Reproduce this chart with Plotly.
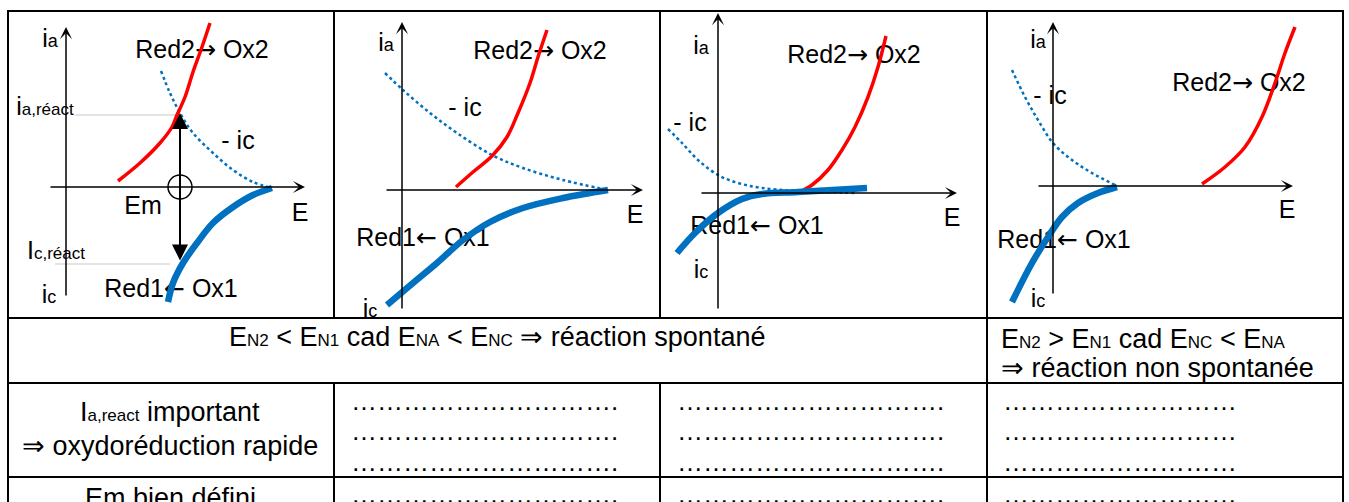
import plotly.graph_objects as go

W, H = 1349, 502
U = 10.0  # pixels per data unit inside the graph panels

# ---------------- table geometry (pixels) ----------------
col_x = [8, 334, 660, 987, 1343]
row_y = [11, 318, 383, 477, 502]

# ---------------- graph panels ----------------
# origin of the (E, i) axes of each panel, in pixels
origins = [(66, 187), (402, 190), (718, 193), (1053, 186)]
# axis extents in data units: (E tail, E tip, i tail, i tip)
axis_ext = [(-1.7, 23.9, -11.0, 16.0), (-1.7, 24.1, -12.0, 16.8),
            (-1.8, 23.9, -11.7, 18.0), (-1.6, 24.0, -10.9, 16.4)]

# ---- data (E, i in arbitrary units) ----
# Panel 1
p1_ox2_E = [5.2, 7.4, 9.4, 10.6, 11.1, 11.9, 12.7, 13.6, 14.4]
p1_ox2_i = [0.6, 2.4, 4.4, 6.0, 7.2, 9.0, 11.5, 14.0, 16.4]
p1_mic_E = [9.5, 10.4, 11.4, 12.7, 14.7, 16.7, 18.7, 20.6]
p1_mic_i = [11.6, 9.4, 7.4, 5.4, 3.4, 1.7, 0.5, -0.1]
p1_ox1_E = [20.6, 18.7, 16.7, 14.7, 13.1, 11.7, 10.7, 10.2]
p1_ox1_i = [-0.1, -0.8, -2.0, -3.6, -5.6, -7.6, -9.6, -11.5]
# Panel 2
p2_ox2_E = [5.4, 7.1, 9.0, 10.5, 11.6, 12.8, 13.6, 14.5]
p2_ox2_i = [0.3, 1.8, 3.4, 5.3, 7.7, 10.7, 13.3, 16.0]
p2_mic_E = [-1.7, 0.1, 2.8, 5.5, 9.0, 12.1, 16.1, 20.6]
p2_mic_i = [11.7, 10.0, 7.7, 5.7, 3.5, 2.2, 1.0, 0.0]
p2_ox1_E = [20.6, 16.1, 12.1, 8.8, 6.1, 3.5, 1.1, -1.5]
p2_ox1_i = [0.0, -0.8, -1.8, -3.2, -5.0, -7.3, -9.3, -11.5]
# Panel 3
p3_ox2_E = [8.0, 9.4, 11.0, 12.4, 13.7, 15.0, 16.0, 16.8]
p3_ox2_i = [0.0, 0.8, 2.3, 4.3, 6.6, 9.6, 12.6, 15.7]
p3_mic_E = [-5.0, -3.6, -2.0, 0.0, 2.0, 4.4, 8.0, 13.9]
p3_mic_i = [6.4, 5.0, 3.3, 1.8, 1.0, 0.5, 0.2, 0.0]
p3_ox1_E = [-4.1, -2.3, 0.0, 2.4, 4.4, 8.0, 14.9]
p3_ox1_i = [-6.0, -4.0, -2.0, -0.6, -0.1, 0.1, 0.5]
# Panel 4
p4_ox2_E = [14.9, 17.2, 19.2, 20.9, 22.2, 23.2, 24.2]
p4_ox2_i = [0.2, 1.9, 3.9, 6.9, 10.3, 13.3, 15.9]
p4_mic_E = [-4.1, -2.8, -1.5, 0.0, 1.9, 3.9, 6.4]
p4_mic_i = [11.6, 8.9, 6.6, 4.3, 2.6, 1.3, 0.0]
p4_ox1_E = [6.4, 4.5, 2.5, 0.9, -0.5, -2.1, -4.1]
p4_ox1_i = [-0.1, -0.7, -1.7, -3.1, -5.1, -7.7, -11.6]

curves = [
    (p1_mic_E, p1_mic_i, p1_ox2_E, p1_ox2_i, p1_ox1_E, p1_ox1_i),
    (p2_mic_E, p2_mic_i, p2_ox2_E, p2_ox2_i, p2_ox1_E, p2_ox1_i),
    (p3_mic_E, p3_mic_i, p3_ox2_E, p3_ox2_i, p3_ox1_E, p3_ox1_i),
    (p4_mic_E, p4_mic_i, p4_ox2_E, p4_ox2_i, p4_ox1_E, p4_ox1_i),
]


def sb(t, size):
    """small (subscript-like) text sitting near the baseline"""
    return "<span style='font-size:%dpx'>%s</span>" % (size, t)


ARR_R = "<span style='font-family:DejaVu Sans'>→</span>"
ARR_L = "<span style='font-family:DejaVu Sans'>←</span>"
RED2 = "Red2" + ARR_R + " Ox2"
RED1 = "Red1" + ARR_L + " Ox1"
IA = "i" + sb("a", 18)
IC = "i" + sb("c", 18)

# panel labels: (text, x px, y px)
panel_labels = [
    [(IA, 50, 41), (IC, 49, 297), ("E", 300, 215),
     (RED2, 202, 52), ("- ic", 238, 143), (RED1, 171, 291),
     ("Em", 143, 208), ("i" + sb("a,réact", 17), 45, 109), ("I" + sb("c,réact", 17), 56, 253)],
    [(IA, 386, 45), (IC, 370, 311), ("E", 635, 217),
     (RED2, 540, 53), ("- ic", 465, 110), (RED1, 423, 240)],
    [(IA, 701, 48), (IC, 701, 272), ("E", 952, 220),
     (RED2, 854, 57), ("- ic", 690, 125), (RED1, 757, 228)],
    [(IA, 1038, 42), (IC, 1038, 301), ("E", 1287, 212),
     (RED2, 1239, 85), ("- ic", 1050, 98), (RED1, 1064, 242)],
]

# table texts
S = 17
row2_left = ("E" + sb("N2", S) + " &lt; E" + sb("N1", S) + " cad E" + sb("NA", S) +
             " &lt; E" + sb("NC", S) + " ⇒ réaction spontané")
row2_right = ["E" + sb("N2", S) + " &gt; E" + sb("N1", S) + " cad E" + sb("NC", S) + " &lt; E" + sb("NA", S),
              "⇒ réaction non spontanée"]
row3_left = ["I" + sb("a,react", S) + " important", "⇒ oxydoréduction rapide"]
row4_left = "Em bien défini"
dots_long = "…" * 10 + "."
dots_short = "…" * 9

RED = "#FF0000"
BLUE = "#0070C0"
FONT = "Liberation Sans, Arial, sans-serif"

fig = go.Figure()
layout = dict(width=W, height=H, margin=dict(l=0, r=0, t=0, b=0, pad=0),
              paper_bgcolor="white", plot_bgcolor="rgba(0,0,0,0)",
              showlegend=False)
annotations = []
shapes = []

for k in range(4):
    n = "" if k == 0 else str(k + 1)
    xa, ya = "x" + n, "y" + n
    cl, cr = col_x[k], col_x[k + 1]
    ox, oy = origins[k]
    layout["xaxis" + n] = dict(domain=[cl / W, cr / W],
                               range=[(cl - ox) / U, (cr - ox) / U],
                               visible=False, fixedrange=True, anchor=ya)
    layout["yaxis" + n] = dict(domain=[1 - row_y[1] / H, 1 - row_y[0] / H],
                               range=[(oy - row_y[1]) / U, (oy - row_y[0]) / U],
                               visible=False, fixedrange=True, anchor=xa)
    # labels (drawn first so the curves pass over them)
    labs = panel_labels[k]
    fig.add_trace(go.Scatter(
        x=[(px - ox) / U for _, px, _ in labs],
        y=[(oy - py) / U for _, _, py in labs],
        text=[t for t, _, _ in labs], mode="text", textposition="middle center",
        textfont=dict(family=FONT, size=25, color="black"),
        hoverinfo="skip", xaxis=xa, yaxis=ya))
    mE, mi, rE, ri, bE, bi = curves[k]
    fig.add_trace(go.Scatter(x=mE, y=mi, mode="lines", line=dict(color=BLUE, width=2.5, dash="dot", shape="spline"),
                             hoverinfo="skip", xaxis=xa, yaxis=ya))
    fig.add_trace(go.Scatter(x=rE, y=ri, mode="lines", line=dict(color=RED, width=3.5, shape="spline"),
                             hoverinfo="skip", xaxis=xa, yaxis=ya))
    fig.add_trace(go.Scatter(x=bE, y=bi, mode="lines", line=dict(color=BLUE, width=6.5, shape="spline"),
                             hoverinfo="skip", xaxis=xa, yaxis=ya))
    # axes with arrows
    e0, e1, i0, i1 = axis_ext[k]
    annotations.append(dict(x=e1, y=0, ax=e0, ay=0, xref=xa, yref=ya, axref=xa, ayref=ya,
                            text="", showarrow=True, arrowhead=3, arrowsize=1.35, arrowwidth=1.5,
                            arrowcolor="black", standoff=0))
    annotations.append(dict(x=0, y=i1, ax=0, ay=i0, xref=xa, yref=ya, axref=xa, ayref=ya,
                            text="", showarrow=True, arrowhead=3, arrowsize=1.35, arrowwidth=1.5,
                            arrowcolor="black", standoff=0))

# panel 1 extras: reaction currents, Em marker
shapes.append(dict(type="line", xref="x", yref="y", x0=0.9, x1=11.4, y0=7.2, y1=7.2,
                   line=dict(color="#c8c8c8", width=1), layer="below"))
shapes.append(dict(type="line", xref="x", yref="y", x0=-1.1, x1=10.4, y0=-7.7, y1=-7.7,
                   line=dict(color="#c8c8c8", width=1), layer="below"))
shapes.append(dict(type="circle", xref="x", yref="y", x0=10.2, x1=12.6, y0=-1.2, y1=1.2,
                   line=dict(color="black", width=1.5)))
annotations.append(dict(x=11.4, y=7.4, ax=11.4, ay=-7.5, xref="x", yref="y", axref="x", ayref="y",
                        text="", showarrow=True, arrowside="end+start",
                        arrowhead=2, startarrowhead=2, arrowsize=1.6, startarrowsize=1.6,
                        arrowwidth=2, arrowcolor="black", standoff=0, startstandoff=0))

# table lines
def hline(y, x0, x1):
    shapes.append(dict(type="line", xref="paper", yref="paper", x0=x0 / W, x1=x1 / W,
                       y0=1 - y / H, y1=1 - y / H, line=dict(color="black", width=2)))

def vline(x, y0, y1):
    shapes.append(dict(type="line", xref="paper", yref="paper", x0=x / W, x1=x / W,
                       y0=1 - y0 / H, y1=1 - y1 / H, line=dict(color="black", width=2)))

for y in row_y[:4]:
    hline(y, col_x[0] - 1, col_x[4] + 1)
vline(col_x[0], row_y[0], H)
vline(col_x[4], row_y[0], H)
for x in col_x[1:4]:
    vline(x, row_y[0], row_y[1])
    vline(x, row_y[2], H)
vline(col_x[3], row_y[1], row_y[2])

def text(t, x, y, xanchor="center", size=27):
    annotations.append(dict(text=t, x=x / W, y=1 - y / H, xref="paper", yref="paper",
                            xanchor=xanchor, yanchor="middle", showarrow=False,
                            font=dict(family=FONT, size=size, color="black")))

text(row2_left, 497, 337)
text(row2_right[0], 999, 339, "left")
text(row2_right[1], 999, 368, "left")
text(row3_left[0], 170, 412)
text(row3_left[1], 170, 446)
text(row4_left, 170, 498)
for y in [401, 431, 462, 494]:
    text(dots_long, 349, y, "left", 26)
    text(dots_long, 675, y, "left", 26)
    text(dots_short, 1001, y, "left", 26)

layout["annotations"] = annotations
layout["shapes"] = shapes
fig.update_layout(**layout)
fig.write_html("out.html")
